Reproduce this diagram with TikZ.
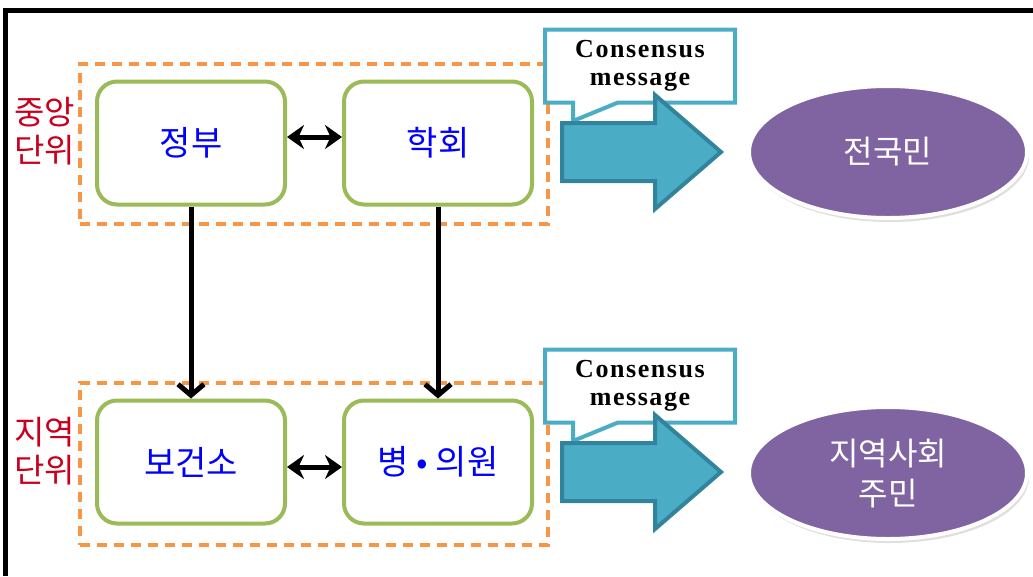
\documentclass[tikz,border=0pt]{standalone}
\usepackage{fontspec}
\setmainfont{Liberation Serif}
\newfontfamily\kr{Noto Sans CJK KR}
\usetikzlibrary{arrows.meta,shapes.geometric,shapes.callouts,shadows}
\definecolor{boxorange}{HTML}{F79646}
\definecolor{boxgreen}{HTML}{9BBB59}
\definecolor{msgblue}{HTML}{4BACC6}
\definecolor{msgdark}{HTML}{31849B}
\definecolor{crowdpurple}{HTML}{8064A2}
\definecolor{levelred}{HTML}{C8001E}

\begin{document}
\begin{tikzpicture}[x=1pt,y=-1pt,
		level/.style={dash pattern=on 10pt off 7pt, draw=boxorange, line width=4pt, minimum width=468pt},
		organ/.style={draw=boxgreen, line width=4pt, rounded corners=20pt, fill=white, minimum width=188pt, minimum height=123pt, text=blue, font=\kr\fontsize{34}{38}\selectfont},
		tag/.style={text=levelred, align=center, font=\kr\fontsize{33}{38}\selectfont},
		msg/.style={rectangle callout, callout pointer width=45pt, draw=msgblue, fill=white, line width=4pt, minimum width=190pt, minimum height=73pt, align=center, font=\addfontfeatures{LetterSpace=6}\bfseries\fontsize{26}{28}\selectfont},
		push/.style={draw=msgdark, fill=msgblue, line width=4pt, line join=miter},
		crowd/.style={ellipse, fill=crowdpurple, draw=white, line width=4pt, minimum width=278pt, minimum height=132pt, text=white, align=center, font=\kr\fontsize{32}{40}\selectfont, drop shadow={opacity=0.25, shadow xshift=2pt, shadow yshift=-4pt}},
		link/.style={line width=5pt, -{Straight Barb[length=11pt, width=26pt]}},
		both/.style={line width=5pt, {Stealth[length=17pt, width=24pt]}-{Stealth[length=17pt, width=24pt]}}]
	\useasboundingbox (0,0) rectangle (1033,576);
	\draw[line width=5pt] (5,576) -- (5,10) -- (1033,10);

	\node[level, minimum height=160pt] (central) at (314,144) {};
	\node[level, minimum height=162pt] (local) at (314,464) {};

	\node[organ] (jeongbu) at (191,143) {정부};
	\node[organ] (hakhoe) at (438,143) {학회};
	\node[organ] (bogeonso) at (191,462) {보건소};
	\node[organ] (byeongwon) at (438,462) {병 • 의원};

	\node[tag] (centraltag) at (45,131) {중앙\\단위};
	\node[tag] (localtag) at (45,451) {지역\\단위};

	\draw[both] (jeongbu.east |- 0,137) -- (hakhoe.west |- 0,137);
	\draw[both] (bogeonso.east |- 0,467) -- (byeongwon.west |- 0,467);
	\draw[link] (jeongbu.south) -- (bogeonso.north);
	\draw[link] (hakhoe.south) -- (byeongwon.north);

	\node[msg, callout absolute pointer={(573,121)}] (msgtop) at (640,66) {Consensus\\message};
	\node[msg, callout absolute pointer={(573,441)}] (msgbot) at (640,386) {Consensus\\message};

	\draw[push] (562,123) -- (655,123) -- (655,95) -- (721,152) -- (655,209) -- (655,181) -- (562,181) -- cycle;
	\draw[push] (562,443) -- (655,443) -- (655,415) -- (721,472) -- (655,529) -- (655,501) -- (562,501) -- cycle;

	\node[crowd] (nation) at (888,152) {전국민};
	\node[crowd] (community) at (888,473) {지역사회\\주민};
\end{tikzpicture}
\end{document}
